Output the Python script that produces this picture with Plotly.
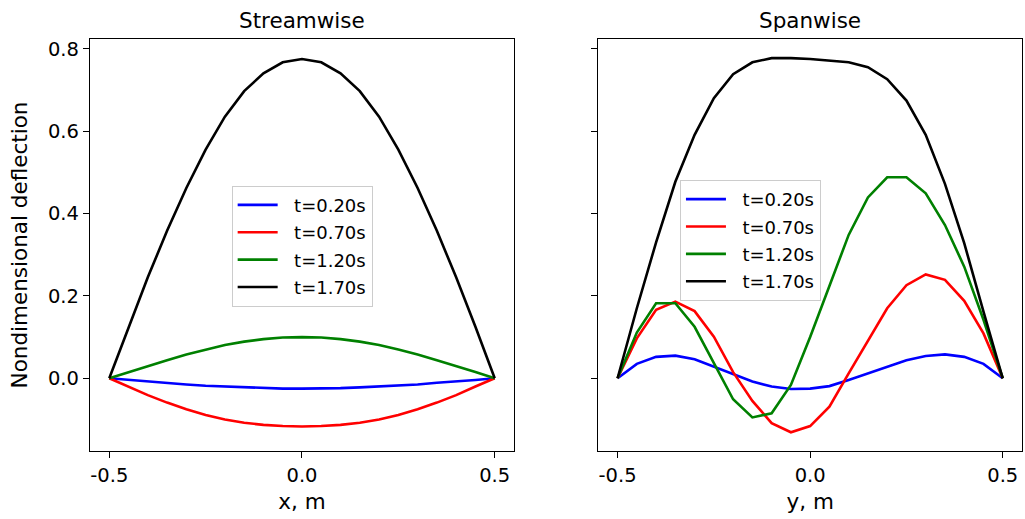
import plotly.graph_objects as go

# Sample positions along the plate (m)
positions = [-0.5, -0.45, -0.4, -0.35, -0.3, -0.25, -0.2, -0.15, -0.1, -0.05, 0.0,
             0.05, 0.1, 0.15, 0.2, 0.25, 0.3, 0.35, 0.4, 0.45, 0.5]

time_labels = ["t=0.20s", "t=0.70s", "t=1.20s", "t=1.70s"]
line_colors = ["#0000ff", "#ff0000", "#008000", "#000000"]

# Streamwise deflection profiles
stream_t020 = [0.0, -0.004, -0.008, -0.011, -0.015, -0.018, -0.020, -0.022, -0.024, -0.025, -0.025,
               -0.025, -0.024, -0.022, -0.020, -0.018, -0.015, -0.011, -0.008, -0.004, 0.0]
stream_t070 = [0.0, -0.020, -0.041, -0.059, -0.075, -0.089, -0.100, -0.108, -0.113, -0.116, -0.117,
               -0.116, -0.113, -0.108, -0.100, -0.089, -0.075, -0.059, -0.041, -0.020, 0.0]
stream_t120 = [0.0, 0.015, 0.030, 0.044, 0.058, 0.070, 0.081, 0.089, 0.095, 0.099, 0.100,
               0.099, 0.095, 0.089, 0.081, 0.070, 0.058, 0.044, 0.030, 0.015, 0.0]
stream_t170 = [0.0, 0.125, 0.245, 0.358, 0.462, 0.555, 0.635, 0.697, 0.740, 0.767, 0.775,
               0.767, 0.740, 0.697, 0.635, 0.555, 0.462, 0.358, 0.245, 0.125, 0.0]

# Spanwise deflection profiles
span_t020 = [0.0, 0.035, 0.052, 0.055, 0.046, 0.028, 0.009, -0.008, -0.020, -0.026, -0.025,
             -0.019, -0.004, 0.012, 0.028, 0.044, 0.054, 0.058, 0.052, 0.035, 0.0]
span_t070 = [0.0, 0.097, 0.166, 0.186, 0.163, 0.101, 0.015, -0.055, -0.109, -0.131, -0.116,
             -0.069, 0.012, 0.090, 0.170, 0.226, 0.252, 0.239, 0.188, 0.109, 0.0]
span_t120 = [0.0, 0.111, 0.182, 0.182, 0.125, 0.036, -0.051, -0.095, -0.085, -0.016, 0.100,
             0.224, 0.348, 0.439, 0.488, 0.488, 0.449, 0.372, 0.271, 0.142, 0.0]
span_t170 = [0.0, 0.170, 0.330, 0.477, 0.591, 0.680, 0.738, 0.767, 0.777, 0.777, 0.775,
             0.771, 0.767, 0.755, 0.726, 0.674, 0.591, 0.472, 0.328, 0.162, 0.0]

x_tick_vals = [-0.5, 0.0, 0.5]
x_tick_text = ["-0.5", "0.0", "0.5"]
y_tick_vals = [0.0, 0.2, 0.4, 0.6, 0.8]
y_tick_text = ["0.0", "0.2", "0.4", "0.6", "0.8"]

FONT = "DejaVu Sans"
PAD = "\u00a0\u00a0"  # small gap between legend line sample and its text
stream_series = [stream_t020, stream_t070, stream_t120, stream_t170]
span_series = [span_t020, span_t070, span_t120, span_t170]

fig = go.Figure()
for i, (label, color, ys) in enumerate(zip(time_labels, line_colors, stream_series)):
    fig.add_trace(go.Scatter(x=positions, y=ys, mode="lines", name=PAD + label,
                             line=dict(color=color, width=2.6), legendgroup=f"s{i}",
                             xaxis="x", yaxis="y", legend="legend"))
for i, (label, color, ys) in enumerate(zip(time_labels, line_colors, span_series)):
    fig.add_trace(go.Scatter(x=positions, y=ys, mode="lines", name=PAD + label,
                             line=dict(color=color, width=2.6), legendgroup=f"p{i}",
                             xaxis="x2", yaxis="y2", legend="legend2"))

axis_common = dict(showgrid=False, zeroline=False, showline=True, mirror=True,
                   linecolor="black", linewidth=1.4, ticks="outside", ticklen=6,
                   tickwidth=1.4, tickcolor="black",
                   tickfont=dict(family=FONT, size=19.5, color="black"))

legend_common = dict(font=dict(family=FONT, size=18, color="black"),
                     bgcolor="rgba(255,255,255,0.8)", bordercolor="#cccccc",
                     borderwidth=1, xanchor="left", yanchor="top",
                     itemwidth=40, tracegroupgap=1)

label_font = dict(family=FONT, size=21.5, color="black")

fig.update_layout(
    width=1025, height=519,
    margin=dict(l=90, r=3, t=39, b=68),
    paper_bgcolor="white", plot_bgcolor="white",
    xaxis=dict(domain=[0, 0.4549], range=[-0.55, 0.55], tickvals=x_tick_vals,
               ticktext=x_tick_text, anchor="y",
               title=dict(text="x, m", font=label_font, standoff=8),
               **axis_common),
    yaxis=dict(domain=[0, 1], range=[-0.1765, 0.8235], tickvals=y_tick_vals,
               ticktext=y_tick_text, anchor="x",
               title=dict(text="Nondimensional deflection", font=label_font, standoff=14),
               **axis_common),
    xaxis2=dict(domain=[0.5454, 1], range=[-0.55, 0.55], tickvals=x_tick_vals,
                ticktext=x_tick_text, anchor="y2",
                title=dict(text="y, m", font=label_font, standoff=8),
                **axis_common),
    yaxis2=dict(domain=[0, 1], range=[-0.1765, 0.8235], tickvals=y_tick_vals,
                anchor="x2", matches="y", showticklabels=False, **axis_common),
    legend=dict(x=0.152, y=0.644, **legend_common),
    legend2=dict(x=0.633, y=0.658, **legend_common),
    showlegend=True,
    annotations=[
        dict(text="Streamwise", x=0.22745, y=1.046, xref="paper", yref="paper",
             xanchor="center", yanchor="middle", showarrow=False, font=label_font),
        dict(text="Spanwise", x=0.7727, y=1.046, xref="paper", yref="paper",
             xanchor="center", yanchor="middle", showarrow=False, font=label_font),
    ],
)

fig.write_html("out.html")
